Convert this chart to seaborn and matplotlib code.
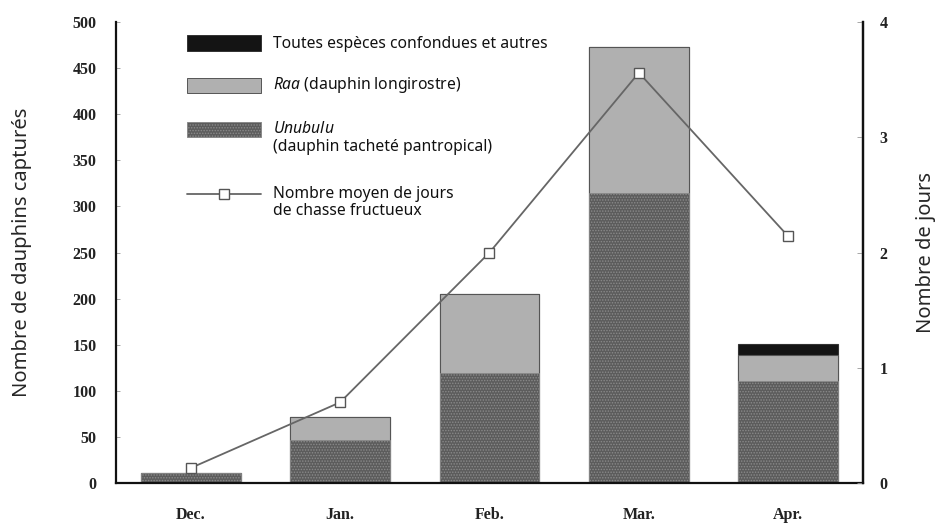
import numpy as np
import matplotlib
matplotlib.use("Agg")
import matplotlib.pyplot as plt
import seaborn as sns
from matplotlib.patches import Rectangle
from matplotlib.lines import Line2D

months = ["Dec.", "Jan.", "Feb.", "Mar.", "Apr."]
unubulu = [11, 47, 119, 315, 111]
raa = [0, 25, 86, 158, 28]
autres = [0, 0, 0, 0, 12]
jours = [0.13, 0.70, 2.0, 3.56, 2.14]

sns.set_style("white")
plt.rcParams["font.family"] = ["Noto Sans", "DejaVu Sans"]
plt.rcParams["mathtext.fontset"] = "custom"
plt.rcParams["mathtext.it"] = "Noto Sans:italic"
plt.rcParams["mathtext.rm"] = "Noto Sans"
plt.rcParams["hatch.linewidth"] = 0.7

W, H = 938, 525
fig = plt.figure(figsize=(W / 100, H / 100), dpi=100)
ax = fig.add_axes([0.1237, 0.08, 0.7963, 0.878])

tot3 = np.array(unubulu) + np.array(raa) + np.array(autres)
tot2 = np.array(unubulu) + np.array(raa)

c_unu, c_raa, c_aut = "#5c5c5c", "#b0b0b0", "#141414"
sns.barplot(x=months, y=tot3, color=c_aut, saturation=1, width=0.667,
            edgecolor="#333333", linewidth=0.8, ax=ax)
sns.barplot(x=months, y=tot2, color=c_raa, saturation=1, width=0.667,
            edgecolor="#555555", linewidth=0.8, ax=ax)
sns.barplot(x=months, y=unubulu, color=c_unu, saturation=1, width=0.667,
            edgecolor="#8a8a8a", linewidth=0.6, hatch="......", ax=ax)

ax.set_ylim(0, 500)
ax.set_xlim(-0.5, 4.5)
ax.set_yticks(np.arange(0, 501, 50))
ax.set_ylabel("Nombre de dauphins capturés", fontsize=14.5, labelpad=29)
ax.set_xlabel("")
ax.spines["top"].set_visible(False)
for s in ["left", "bottom", "right"]:
    ax.spines[s].set_color("#111111")
    ax.spines[s].set_linewidth(1.6)
ax.tick_params(axis="y", direction="in", length=3, width=0.6, color="#999999",
               pad=14)
ax.tick_params(axis="x", length=0, pad=17)
for lab in ax.get_xticklabels() + ax.get_yticklabels():
    lab.set_fontfamily("Liberation Serif")
    lab.set_fontweight("bold")
    lab.set_fontsize(11.5)
    lab.set_color("#222222")

ax2 = ax.twinx()
sns.lineplot(x=np.arange(len(months)), y=jours, ax=ax2, color="#666666",
             linewidth=1.3, marker="s", markersize=6.5,
             markerfacecolor="white", markeredgecolor="#555555",
             markeredgewidth=1.0)
ax2.set_ylim(0, 4)
ax2.set_xlim(-0.5, 4.5)
ax2.set_yticks(np.arange(0, 5, 1))
ax2.set_ylabel("Nombre de jours", fontsize=14.5, labelpad=20)
for s in ["top", "left", "bottom"]:
    ax2.spines[s].set_visible(False)
ax2.spines["right"].set_color("#111111")
ax2.spines["right"].set_linewidth(1.6)
ax2.tick_params(axis="y", direction="in", length=4, width=0.6,
                color="#999999", pad=12)
for lab in ax2.get_yticklabels():
    lab.set_fontfamily("Liberation Serif")
    lab.set_fontweight("bold")
    lab.set_fontsize(11.5)
    lab.set_color("#222222")


# legend drawn by hand (handles line up with the first text line)
def fx(x):
    return x / W


def fy(y):
    return 1 - y / H


hx0, hx1, tx = 187, 261, 273
patches = [
    (43, c_aut, "#333333", None),
    (85, c_raa, "#555555", None),
    (129, c_unu, "#8a8a8a", "......"),
]
for yc, fc, ec, hatch in patches:
    fig.add_artist(Rectangle((fx(hx0), fy(yc + 7.5)), fx(hx1 - hx0), 15 / H,
                             facecolor=fc, edgecolor=ec, linewidth=0.7,
                             hatch=hatch, transform=fig.transFigure))
fig.add_artist(Line2D([fx(hx0), fx(hx1)], [fy(194), fy(194)], color="#666666",
                      linewidth=1.3, transform=fig.transFigure))
fig.add_artist(Line2D([fx((hx0 + hx1) / 2)], [fy(194)], marker="s",
                      markersize=6.5, markerfacecolor="white",
                      markeredgecolor="#555555", markeredgewidth=1.0,
                      transform=fig.transFigure))

leg_text = [
    (44, "Toutes espèces confondues et autres"),
    (85, r"$\it{Raa}$ (dauphin longirostre)"),
    (129, r"$\it{Unubulu}$"),
    (147, "(dauphin tacheté pantropical)"),
    (194, "Nombre moyen de jours"),
    (211, "de chasse fructueux"),
]
for yc, txt in leg_text:
    fig.text(fx(tx), fy(yc), txt, fontsize=11.3, va="center", ha="left",
             color="#111111")

fig.savefig("out.png", dpi=100)
